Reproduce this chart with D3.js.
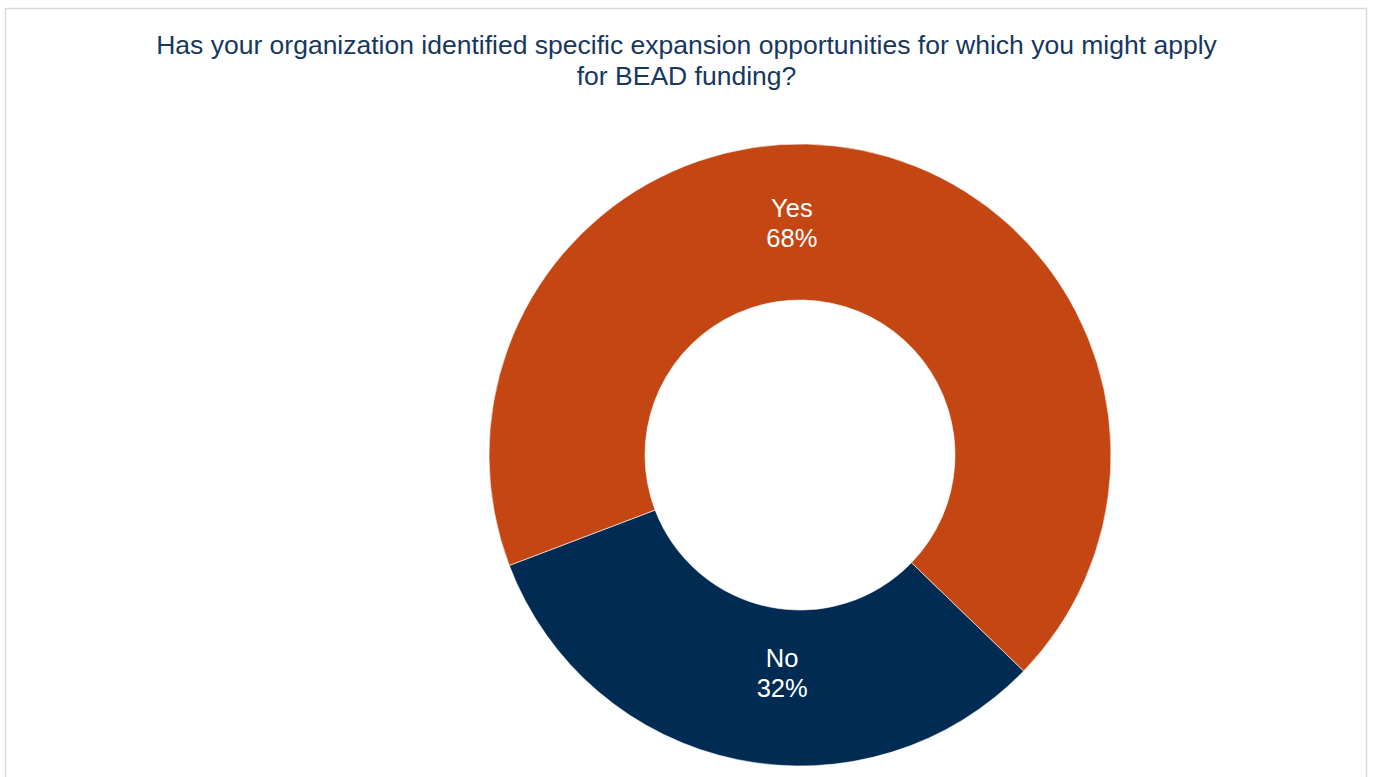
<!DOCTYPE html>
<html>
<head>
<meta charset="utf-8">
<script src="https://cdn.jsdelivr.net/npm/d3@7"></script>
<style>
body { margin: 0; background: #fff; }
svg { display: block; }
</style>
</head>
<body>
<svg id="chart" width="1373" height="777"></svg>
<script>
// survey answers, Excel order (No first, rotated so it sits at the bottom)
var categories = ['No', 'Yes'];
var shares = [32, 68];
var sliceColors = ['#002C54', '#C34613'];
var titleLines = ['Has your organization identified specific expansion opportunities for which you might apply',
                  'for BEAD funding?'];

var svg = d3.select('#chart');
var cx = 800, cy = 455;
var outerR = 311, innerR = 155;
// excel doesn't put the labels exactly on the centroid, nudge them a bit
var labelNudge = [[29, -6], [-55, 0]];

// chart frame
svg.append('rect')
    .attr('x', 5.5).attr('y', 8.5)
    .attr('width', 1361).attr('height', 800)
    .attr('fill', '#fff')
    .attr('stroke', '#d9d9d9')
    .attr('stroke-width', 1.5);

svg.selectAll('text.title')
    .data(titleLines)
    .enter()
    .append('text')
    .attr('class', 'title')
    .attr('x', 686.5)
    .attr('y', function (d, i) { return 54 + i * 30.5; })
    .attr('text-anchor', 'middle')
    .style('font-family', 'Liberation Sans, Arial, sans-serif')
    .style('font-size', '26.5px')
    .style('fill', '#17375E')
    .text(function (d) { return d; });

var start = 134 * Math.PI / 180;
var pie = d3.pie()
    .sort(null)
    .startAngle(start)
    .endAngle(start + 2 * Math.PI)
    .value(function (d) { return d; });

var arc = d3.arc().innerRadius(innerR).outerRadius(outerR);
var labelArc = d3.arc().innerRadius((innerR + outerR) / 2).outerRadius((innerR + outerR) / 2);

var g = svg.append('g').attr('transform', 'translate(' + cx + ',' + cy + ')');
var slices = pie(shares);

g.selectAll('path')
    .data(slices)
    .enter()
    .append('path')
    .attr('d', arc)
    .attr('fill', function (d, i) { return sliceColors[i]; })
    .attr('stroke', '#fff')
    .attr('stroke-width', 0.6);

var labels = g.selectAll('g.lbl')
    .data(slices)
    .enter()
    .append('g')
    .attr('class', 'lbl')
    .attr('transform', function (d, i) {
        var c = labelArc.centroid(d);
        return 'translate(' + (c[0] + labelNudge[i][0]) + ',' + (c[1] + labelNudge[i][1]) + ')';
    });

labels.append('text')
    .attr('text-anchor', 'middle')
    .attr('y', -10)
    .style('font-family', 'Liberation Sans, Arial, sans-serif')
    .style('font-size', '25.5px')
    .style('fill', '#fff')
    .text(function (d, i) { return categories[i]; });

labels.append('text')
    .attr('text-anchor', 'middle')
    .attr('y', 20)
    .style('font-family', 'Liberation Sans, Arial, sans-serif')
    .style('font-size', '25.5px')
    .style('fill', '#fff')
    .text(function (d) { return d.data + '%'; });
</script>
</body>
</html>
